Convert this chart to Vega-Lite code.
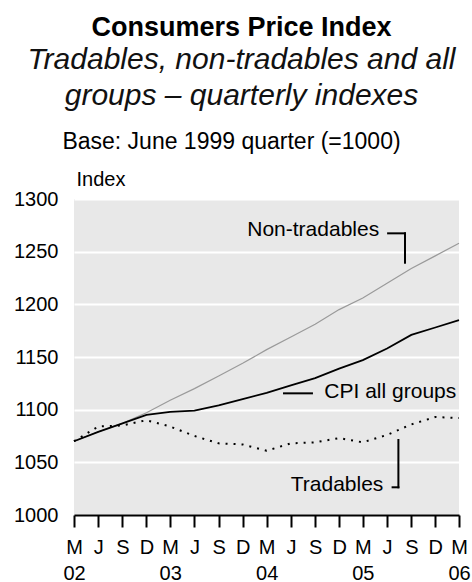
{
  "$schema": "https://vega.github.io/schema/vega-lite/v6.json",
  "width": 385,
  "height": 316,
  "autosize": {"type": "none"},
  "padding": {"left": 74, "top": 199, "right": 13, "bottom": 67},
  "background": "white",
  "title": {
    "text": "Consumers Price Index",
    "subtitle": ["Tradables, non-tradables and all", "groups – quarterly indexes"],
    "anchor": "middle",
    "frame": "group",
    "dx": -25,
    "offset": 18,
    "font": "Liberation Sans",
    "fontSize": 27,
    "fontWeight": "bold",
    "color": "#000000",
    "subtitleFont": "Liberation Sans",
    "subtitleFontSize": 30,
    "subtitleFontStyle": "italic",
    "subtitleColor": "#111111",
    "subtitleLineHeight": 36,
    "subtitlePadding": 3
  },
  "config": {
    "view": {"fill": "#e8e8e8", "stroke": null},
    "font": "Liberation Sans",
    "numberFormat": "d",
    "axis": {
      "labelFont": "Liberation Sans",
      "labelFontSize": 20,
      "labelColor": "#000000",
      "titleFont": "Liberation Sans",
      "titleColor": "#000000",
      "titleFontWeight": "normal"
    },
    "axisX": {"labelOverlap": false, "labelFlush": false, "tickCount": 20},
    "text": {"font": "Liberation Sans", "fontSize": 21, "color": "#000000", "baseline": "alphabetic"}
  },
  "datasets": {
    "cpi": [
      {"quarter": "2002-03-01", "nontradables": 1070, "all_groups": 1070, "tradables": 1070},
      {"quarter": "2002-06-01", "nontradables": 1079, "all_groups": 1079, "tradables": 1084},
      {"quarter": "2002-09-01", "nontradables": 1087, "all_groups": 1087, "tradables": 1085},
      {"quarter": "2002-12-01", "nontradables": 1097, "all_groups": 1095, "tradables": 1090},
      {"quarter": "2003-03-01", "nontradables": 1109, "all_groups": 1098, "tradables": 1084},
      {"quarter": "2003-06-01", "nontradables": 1120, "all_groups": 1099, "tradables": 1075},
      {"quarter": "2003-09-01", "nontradables": 1132, "all_groups": 1104, "tradables": 1068},
      {"quarter": "2003-12-01", "nontradables": 1144, "all_groups": 1110, "tradables": 1067},
      {"quarter": "2004-03-01", "nontradables": 1157, "all_groups": 1116, "tradables": 1061},
      {"quarter": "2004-06-01", "nontradables": 1169, "all_groups": 1123, "tradables": 1068},
      {"quarter": "2004-09-01", "nontradables": 1181, "all_groups": 1130, "tradables": 1069},
      {"quarter": "2004-12-01", "nontradables": 1195, "all_groups": 1139, "tradables": 1073},
      {"quarter": "2005-03-01", "nontradables": 1206, "all_groups": 1147, "tradables": 1069},
      {"quarter": "2005-06-01", "nontradables": 1220, "all_groups": 1158, "tradables": 1076},
      {"quarter": "2005-09-01", "nontradables": 1234, "all_groups": 1171, "tradables": 1086},
      {"quarter": "2005-12-01", "nontradables": 1246, "all_groups": 1178, "tradables": 1093},
      {"quarter": "2006-03-01", "nontradables": 1258, "all_groups": 1185, "tradables": 1092}
    ],
    "labels": [
      {"text": "Non-tradables", "date": "2005-05-02", "index": 1264.4, "side": "right"},
      {"text": "Tradables", "date": "2005-05-18", "index": 1023.1, "side": "right"},
      {"text": "CPI all groups", "date": "2004-10-06", "index": 1110.8, "side": "left"}
    ],
    "leaders": [
      {"start": "2005-06-05", "end": "2005-08-08", "from": 1267.4, "to": 1267.4},
      {"start": "2005-08-08", "end": "2005-08-08", "from": 1267.4, "to": 1239.5},
      {"start": "2004-05-06", "end": "2004-08-20", "from": 1115.5, "to": 1115.5},
      {"start": "2005-06-22", "end": "2005-07-14", "from": 1026.3, "to": 1026.3},
      {"start": "2005-07-14", "end": "2005-07-14", "from": 1026.3, "to": 1071.2}
    ]
  },
  "layer": [
    {
      "data": {"name": "cpi"},
      "mark": {"type": "line", "color": "#9a9a9a", "strokeWidth": 1.2},
      "encoding": {
        "x": {
          "field": "quarter",
          "type": "temporal",
          "scale": {
            "type": "utc",
            "nice": false,
            "domain": [
              {"year": 2002, "month": 3, "date": 1, "utc": true},
              {"year": 2006, "month": 3, "date": 1, "utc": true}
            ]
          },
          "axis": {
            "orient": "bottom",
            "title": "Base: June 1999 quarter (=1000)",
            "titleFontSize": 23,
            "titleAlign": "center",
            "titleBaseline": "alphabetic",
            "titleX": 157,
            "titleY": -367,
            "grid": false,
            "tickCount": 20,
            "values": [
              {"year": 2002, "month": 3, "date": 1, "utc": true},
              {"year": 2002, "month": 6, "date": 1, "utc": true},
              {"year": 2002, "month": 9, "date": 1, "utc": true},
              {"year": 2002, "month": 12, "date": 1, "utc": true},
              {"year": 2003, "month": 3, "date": 1, "utc": true},
              {"year": 2003, "month": 6, "date": 1, "utc": true},
              {"year": 2003, "month": 9, "date": 1, "utc": true},
              {"year": 2003, "month": 12, "date": 1, "utc": true},
              {"year": 2004, "month": 3, "date": 1, "utc": true},
              {"year": 2004, "month": 6, "date": 1, "utc": true},
              {"year": 2004, "month": 9, "date": 1, "utc": true},
              {"year": 2004, "month": 12, "date": 1, "utc": true},
              {"year": 2005, "month": 3, "date": 1, "utc": true},
              {"year": 2005, "month": 6, "date": 1, "utc": true},
              {"year": 2005, "month": 9, "date": 1, "utc": true},
              {"year": 2005, "month": 12, "date": 1, "utc": true},
              {"year": 2006, "month": 3, "date": 1, "utc": true}
            ],
            "labelExpr": "[substring(utcFormat(datum.value, '%b'), 0, 1), utcmonth(datum.value) == 2 ? utcFormat(datum.value, '%y') : '']",
            "labelFlush": false,
            "labelOverlap": false,
            "labelBaseline": "top",
            "labelPadding": 10,
            "labelLineHeight": 26,
            "domain": true,
            "domainColor": "#000000",
            "domainWidth": 2,
            "ticks": true,
            "tickColor": "#000000",
            "tickWidth": 2,
            "tickSize": 12
          }
        },
        "y": {
          "field": "nontradables",
          "type": "quantitative",
          "scale": {"domain": [1000, 1300], "nice": false, "zero": false},
          "axis": {
            "values": [1000, 1050, 1100, 1150, 1200, 1250, 1300],
            "format": "d",
            "title": "Index",
            "titleAngle": 0,
            "titleAlign": "left",
            "titleBaseline": "alphabetic",
            "titleX": 2,
            "titleY": -14,
            "titleFontSize": 20,
            "grid": true,
            "gridColor": "#ffffff",
            "gridWidth": 2,
            "gridOpacity": 1,
            "domain": false,
            "ticks": false,
            "labelPadding": 16
          }
        }
      }
    },
    {
      "data": {"name": "cpi"},
      "mark": {"type": "line", "color": "#000000", "strokeWidth": 1.8},
      "encoding": {
        "x": {"field": "quarter", "type": "temporal"},
        "y": {"field": "all_groups", "type": "quantitative"}
      }
    },
    {
      "data": {"name": "cpi"},
      "mark": {"type": "line", "color": "#000000", "strokeWidth": 2, "strokeDash": [2, 6], "strokeCap": "butt"},
      "encoding": {
        "x": {"field": "quarter", "type": "temporal"},
        "y": {"field": "tradables", "type": "quantitative"}
      }
    },
    {
      "data": {"name": "labels"},
      "transform": [{"filter": "datum.side === 'right'"}],
      "mark": {"type": "text", "align": "right"},
      "encoding": {
        "x": {"field": "date", "type": "temporal"},
        "y": {"field": "index", "type": "quantitative"},
        "text": {"field": "text"}
      }
    },
    {
      "data": {"name": "labels"},
      "transform": [{"filter": "datum.side === 'left'"}],
      "mark": {"type": "text", "align": "left"},
      "encoding": {
        "x": {"field": "date", "type": "temporal"},
        "y": {"field": "index", "type": "quantitative"},
        "text": {"field": "text"}
      }
    },
    {
      "data": {"name": "leaders"},
      "mark": {"type": "rule", "color": "#000000", "strokeWidth": 2, "strokeCap": "square"},
      "encoding": {
        "x": {"field": "start", "type": "temporal"},
        "x2": {"field": "end"},
        "y": {"field": "from", "type": "quantitative"},
        "y2": {"field": "to"}
      }
    }
  ]
}
